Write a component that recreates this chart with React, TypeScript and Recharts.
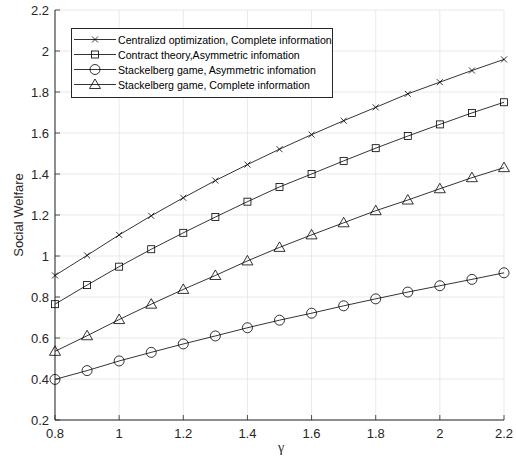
import React from 'react';
import { LineChart, Line, XAxis, YAxis, CartesianGrid } from 'recharts';

const gammas = [0.8, 0.9, 1.0, 1.1, 1.2, 1.3, 1.4, 1.5, 1.6, 1.7, 1.8, 1.9, 2.0, 2.1, 2.2];
const centralized = [0.905, 1.003, 1.103, 1.196, 1.284, 1.368, 1.446, 1.521, 1.592, 1.66, 1.725, 1.791, 1.848, 1.905, 1.959];
const contract = [0.765, 0.858, 0.948, 1.033, 1.113, 1.19, 1.265, 1.337, 1.4, 1.464, 1.526, 1.585, 1.642, 1.698, 1.75];
const stackAsym = [0.398, 0.441, 0.488, 0.53, 0.571, 0.61, 0.65, 0.687, 0.721, 0.757, 0.791, 0.824, 0.855, 0.886, 0.918];
const stackComplete = [0.535, 0.611, 0.69, 0.765, 0.837, 0.905, 0.976, 1.042, 1.103, 1.162, 1.221, 1.273, 1.328, 1.382, 1.431];

const xTicks = [0.8, 1, 1.2, 1.4, 1.6, 1.8, 2, 2.2];
const yTicks = [0.2, 0.4, 0.6, 0.8, 1, 1.2, 1.4, 1.6, 1.8, 2, 2.2];

const legendLabels = [
  'Centralizd optimization, Complete information',
  'Contract theory,Asymmetric infomation',
  'Stackelberg game, Asymmetric infomation',
  'Stackelberg game, Complete information',
];

const data = gammas.map((g, i) => ({
  g,
  centralized: centralized[i],
  contract: contract[i],
  stackAsym: stackAsym[i],
  stackComplete: stackComplete[i],
}));

type Shape = 'cross' | 'square' | 'circle' | 'triangle';

function Marker({ shape, cx, cy }: { shape: Shape; cx: number; cy: number }) {
  const s = { stroke: '#000', strokeWidth: 0.8, fill: 'none' };
  if (shape === 'cross') {
    return (
      <g {...s}>
        <line x1={cx - 3} y1={cy - 3} x2={cx + 3} y2={cy + 3} />
        <line x1={cx - 3} y1={cy + 3} x2={cx + 3} y2={cy - 3} />
      </g>
    );
  }
  if (shape === 'square') return <rect x={cx - 3.5} y={cy - 3.5} width={7} height={7} {...s} />;
  if (shape === 'circle') return <circle cx={cx} cy={cy} r={5} {...s} />;
  return <polygon points={`${cx},${cy - 5.5} ${cx - 5.5},${cy + 4} ${cx + 5.5},${cy + 4}`} {...s} />;
}

const dotFor = (shape: Shape) => (props: any) => (
  <g key={`${shape}-${props.index}`}>
    <Marker shape={shape} cx={props.cx} cy={props.cy} />
  </g>
);

const series: { key: string; shape: Shape }[] = [
  { key: 'centralized', shape: 'cross' },
  { key: 'contract', shape: 'square' },
  { key: 'stackAsym', shape: 'circle' },
  { key: 'stackComplete', shape: 'triangle' },
];

const fmt = (v: number) => String(Math.round(v * 10) / 10);
const font = 'Liberation Sans, Arial, sans-serif';
const axisColor = '#262626';
const TICK = 5;

// tick label + inward tick mark (MATLAB style)
const BottomTick = (props: any) => {
  const { x, y, payload } = props;
  return (
    <g>
      <line x1={x} y1={y - 8} x2={x} y2={y - 8 - TICK} stroke={axisColor} strokeWidth={0.8} />
      <text x={x} y={y + 10} textAnchor="middle" fill={axisColor} fontSize={13} fontFamily={font}>
        {fmt(payload.value)}
      </text>
    </g>
  );
};

const LeftTick = (props: any) => {
  const { x, y, payload } = props;
  return (
    <g>
      <line x1={x + 6} y1={y} x2={x + 6 + TICK} y2={y} stroke={axisColor} strokeWidth={0.8} />
      <text x={x} y={y + 4.5} textAnchor="end" fill={axisColor} fontSize={13} fontFamily={font}>
        {fmt(payload.value)}
      </text>
    </g>
  );
};

const TopTick = (props: any) => {
  const { x, y } = props;
  return <line x1={x} y1={y} x2={x} y2={y + TICK} stroke={axisColor} strokeWidth={0.8} />;
};

const RightTick = (props: any) => {
  const { x, y } = props;
  return <line x1={x} y1={y} x2={x - TICK} y2={y} stroke={axisColor} strokeWidth={0.8} />;
};

export default function App() {
  return (
    <div style={{ position: 'absolute', left: 0, top: 0, width: 516, height: 459, background: '#fff' }}>
      <LineChart width={516} height={459} data={data} margin={{ top: 10, right: 12, bottom: 0, left: 0 }}>
        <CartesianGrid stroke="#e3e3e3" strokeWidth={0.8} />
        <XAxis
          dataKey="g"
          type="number"
          domain={[0.8, 2.2]}
          ticks={xTicks}
          height={39}
          tickLine={false}
          tickSize={0}
          tickMargin={8}
          stroke={axisColor}
          tick={BottomTick}
        />
        <XAxis
          xAxisId="top"
          dataKey="g"
          type="number"
          orientation="top"
          domain={[0.8, 2.2]}
          ticks={xTicks}
          height={0}
          tickLine={false}
          tickSize={0}
          tickMargin={0}
          tick={TopTick}
          stroke={axisColor}
        />
        <YAxis
          type="number"
          domain={[0.2, 2.2]}
          ticks={yTicks}
          width={55}
          tickLine={false}
          tickSize={0}
          tickMargin={6}
          stroke={axisColor}
          tick={LeftTick}
        />
        <YAxis
          yAxisId="right"
          orientation="right"
          type="number"
          domain={[0.2, 2.2]}
          ticks={yTicks}
          width={0}
          tickLine={false}
          tickSize={0}
          tickMargin={0}
          tick={RightTick}
          stroke={axisColor}
        />
        {series.map((s) => (
          <Line
            key={s.key}
            dataKey={s.key}
            type="linear"
            stroke="#000"
            strokeWidth={0.8}
            dot={dotFor(s.shape)}
            activeDot={false}
            isAnimationActive={false}
          />
        ))}
      </LineChart>
      <div
        style={{
          position: 'absolute',
          left: 18,
          top: 215,
          transform: 'translate(-50%, -50%) rotate(-90deg)',
          fontFamily: font,
          fontSize: 13,
          color: axisColor,
          whiteSpace: 'nowrap',
        }}
      >
        Social Welfare
      </div>
      <div
        style={{
          position: 'absolute',
          left: 281,
          top: 448,
          transform: 'translate(-50%, -50%)',
          fontFamily: 'Liberation Serif, Times New Roman, serif',
          fontSize: 14,
          color: axisColor,
        }}
      >
        γ
      </div>
      <div
        style={{
          position: 'absolute',
          left: 71,
          top: 28,
          width: 262,
          height: 70,
          border: '0.8px solid #262626',
          background: '#fff',
          boxSizing: 'border-box',
          fontFamily: font,
          fontSize: 10.6,
          color: '#000',
        }}
      >
        {legendLabels.map((label, i) => (
          <div key={label} style={{ position: 'absolute', left: 0, top: 3 + i * 15, height: 15, display: 'flex', alignItems: 'center', whiteSpace: 'nowrap' }}>
            <svg width={46} height={15} style={{ display: 'block' }}>
              <line x1={2} y1={7.5} x2={44} y2={7.5} stroke="#000" strokeWidth={0.8} />
              <Marker shape={series[i].shape} cx={23} cy={7.5} />
            </svg>
            <span>{label}</span>
          </div>
        ))}
      </div>
    </div>
  );
}
